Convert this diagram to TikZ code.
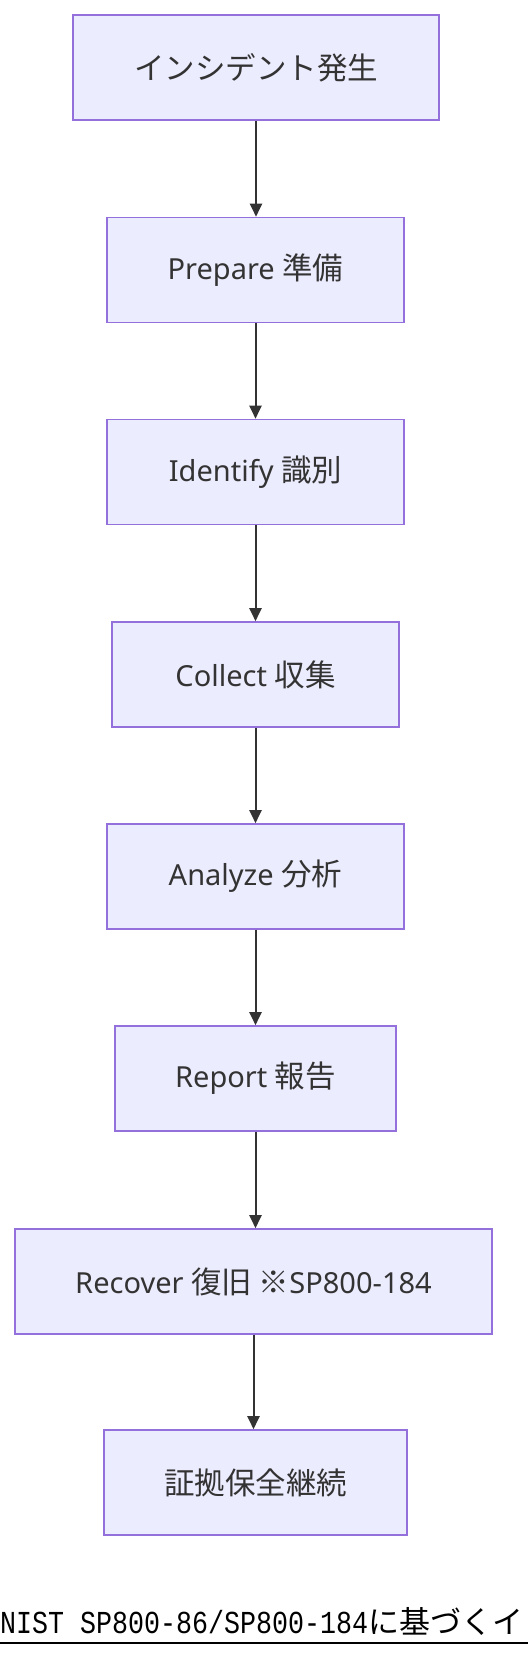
\documentclass[tikz,border=0pt]{standalone}
\usepackage{fontspec}
\usepackage{graphicx}
\setmainfont{Noto Sans}
\newfontfamily\cjk{Noto Sans CJK JP}
\newfontfamily\monolat{Liberation Mono}
\newcommand{\jp}[1]{{\cjk\fontsize{30.5}{36}\selectfont #1}}
\usetikzlibrary{arrows.meta}
\definecolor{stepfill}{HTML}{ECECFF}
\definecolor{stepedge}{HTML}{9370DB}
\definecolor{inkdark}{HTML}{333333}

\begin{document}
\begin{tikzpicture}[
  x=1pt, y=-1pt,
  font=\fontsize{29}{35}\selectfont,
  stepbox/.style={draw=stepedge, fill=stepfill, line width=1.6pt,
                  minimum height=105pt, inner sep=0pt, text=inkdark},
  flow/.style={-{Triangle[length=13pt, width=12pt]}, inkdark, line width=2pt},
]
\useasboundingbox (0,0) rectangle (528,1660);
\begin{scope}
\clip (0,0) rectangle (528,1660);

% =========================== process steps ===========================
\node[stepbox, minimum width=366pt] (start)   at (256,   67.5) {\jp{インシデント発生}};
\node[stepbox, minimum width=297pt] (prep)    at (255.5, 270)  {Prepare \jp{準備}};
\node[stepbox, minimum width=297pt] (ident)   at (255.5, 472)  {Identify \jp{識別}};
\node[stepbox, minimum width=287pt] (collect) at (255.5, 674.5) {Collect \jp{収集}};
\node[stepbox, minimum width=297pt] (anal)    at (255.5, 876.5) {Analyze \jp{分析}};
\node[stepbox, minimum width=281pt] (report)  at (255.5, 1078.5) {Report \jp{報告}};
\node[stepbox, minimum width=477pt] (recover) at (253.5, 1281.5) {Recover \jp{復旧 ※}SP800-184};
\node[stepbox, minimum width=303pt] (keep)    at (255.5, 1482.5) {\jp{証拠保全継続}};

% arrows between the steps, kept vertical
\foreach \a/\b in {start/prep, prep/ident, ident/collect, collect/anal,
                   anal/report, report/recover, recover/keep}{
  \draw[flow] (\a.south) -- (\a.south |- \b.north);
}

% =========================== title (cut at the right) ===========================
\node[anchor=base west, inner sep=0pt, text=black] (title) at (0,1633)
  {\scalebox{0.833}[1]{\monolat\fontsize{32}{38}\selectfont NIST SP800-86/SP800-184}\cjk\fontsize{31}{38}\selectfont に基づくイ};
\coordinate (ulstart) at (0,1643);
\coordinate (ulend) at (528,1643);
\draw[black, line width=2pt] (ulstart) -- (ulend);
\end{scope}
\end{tikzpicture}
\end{document}
